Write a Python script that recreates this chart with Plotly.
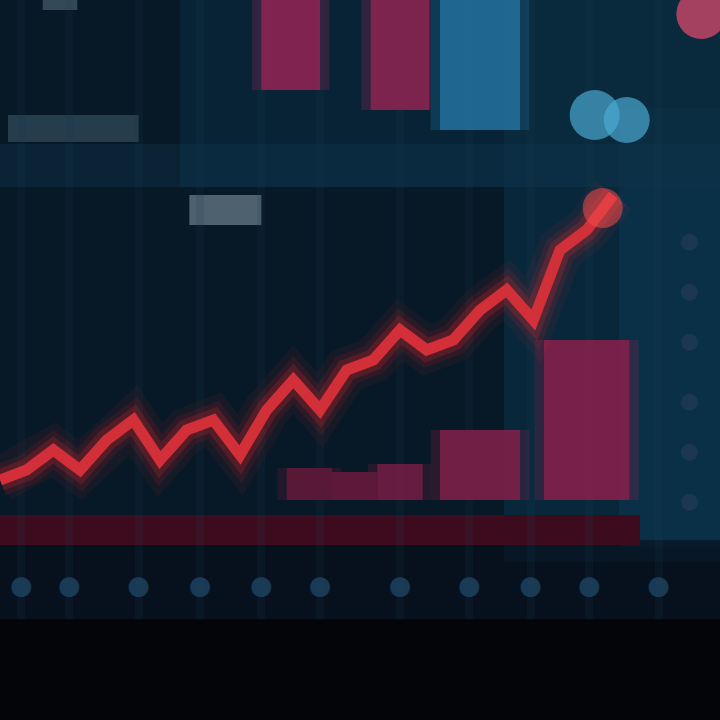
import plotly.graph_objects as go

# ---- data (arbitrary units) ----
days = list(range(24))
price = [140, 150, 170, 150, 180, 200, 160, 190, 200, 165, 210, 240,
         210, 250, 260, 290, 270, 280, 310, 330, 300, 370, 390, 425]

vol_x = [11.6, 13.3, 15.0, 18.0, 22.0]
vol_w = [1.7, 1.7, 1.7, 3.0, 3.2]
vol_h = [32, 28, 36, 70, 160]
vol_c = ["#5e1838", "#641a3c", "#6e1d42", "#7a2048", "#80214c"]

top_x = [10.9, 15.0, 18.0]
top_w = [2.2, 2.2, 3.0]
top_h = [-90, -110, -130]
top_c = ["#8e2455", "#8a2352", "#22709c"]

xtick_vals = [0.8, 2.6, 5.2, 7.5, 9.8, 12.0, 15.0, 17.6, 19.9, 22.1, 24.7]
ytick_vals = [120, 170, 220, 280, 330, 380]

fig = go.Figure()

# glow of the price line
for w, op in [(46, 0.06), (32, 0.1), (22, 0.18)]:
    fig.add_trace(go.Scatter(x=days, y=price, mode="lines",
                             line=dict(color="#ff2a2a", width=w),
                             opacity=op, hoverinfo="skip", showlegend=False))

# volume bars (glow + bars)
fig.add_trace(go.Bar(x=vol_x, y=vol_h, width=[w + 0.7 for w in vol_w], base=120,
                     marker=dict(color=vol_c, line_width=0), opacity=0.3,
                     showlegend=False, hoverinfo="skip"))
fig.add_trace(go.Bar(x=vol_x, y=vol_h, width=vol_w, base=120,
                     marker=dict(color=vol_c, line_width=0), opacity=0.9,
                     showlegend=False))

# top bars
fig.add_trace(go.Bar(x=top_x, y=top_h, width=[w + 0.7 for w in top_w], base=620,
                     marker=dict(color=top_c, line_width=0), opacity=0.3,
                     showlegend=False, hoverinfo="skip"))
fig.add_trace(go.Bar(x=top_x, y=top_h, width=top_w, base=620,
                     marker=dict(color=top_c, line_width=0), opacity=0.85,
                     showlegend=False))

# main price line
fig.add_trace(go.Scatter(x=days, y=price, mode="lines",
                         line=dict(color="#e0323a", width=11),
                         opacity=0.9, showlegend=False))
fig.add_trace(go.Scatter(x=[22.6], y=[412], mode="markers",
                         marker=dict(size=40, color="#f04a4a", opacity=0.55),
                         showlegend=False, hoverinfo="skip"))

# cyan and pink blobs (legend-like marks)
fig.add_trace(go.Scatter(x=[22.3, 23.5], y=[505, 500], mode="markers",
                         marker=dict(size=[50, 46], color="#4aa8d0", opacity=0.7,
                                     line_width=0),
                         showlegend=False, hoverinfo="skip"))
fig.add_trace(go.Scatter(x=[26.3], y=[606], mode="markers",
                         marker=dict(size=50, color="#d84a6e", opacity=0.75,
                                     line_width=0),
                         showlegend=False, hoverinfo="skip"))

shapes = [
    # lighter teal right side
    dict(type="rect", xref="paper", yref="paper", x0=0.7, x1=1, y0=0.22, y1=1,
         fillcolor="#0b3a56", line_width=0, layer="below", opacity=0.45),
    dict(type="rect", xref="paper", yref="paper", x0=0.86, x1=1, y0=0.24, y1=0.85,
         fillcolor="#0e4260", line_width=0, layer="below", opacity=0.35),
    # top region
    dict(type="rect", xref="paper", yref="paper", x0=0.25, x1=1, y0=0.74, y1=1,
         fillcolor="#0a2c40", line_width=0, layer="below", opacity=0.6),
    # lighter band
    dict(type="rect", xref="paper", yref="paper", x0=0, x1=1, y0=0.74, y1=0.8,
         fillcolor="#103850", line_width=0, layer="below", opacity=0.4),
    # darker lower strip
    dict(type="rect", xref="paper", yref="paper", x0=0, x1=1, y0=0.14, y1=0.25,
         fillcolor="#070e18", line_width=0, layer="below", opacity=0.6),
    # dark red base band
    dict(type="rect", xref="x", yref="y", x0=-1, x1=24, y0=75, y1=105,
         fillcolor="#3c0c1e", line_width=0, layer="below"),
    # blurred text blocks
    dict(type="rect", xref="x", yref="y", x0=0.3, x1=5.2, y0=478, y1=505,
         fillcolor="#3a5668", line_width=0, layer="below", opacity=0.6),
    dict(type="rect", xref="x", yref="y", x0=7.1, x1=9.8, y0=395, y1=425,
         fillcolor="#7f929f", line_width=0, layer="below", opacity=0.6),
    dict(type="rect", xref="x", yref="y", x0=1.6, x1=2.9, y0=610, y1=620,
         fillcolor="#5f7a8a", line_width=0, layer="below", opacity=0.5),
    # black bottom band
    dict(type="rect", xref="paper", yref="paper", x0=0, x1=1, y0=0, y1=0.14,
         fillcolor="#030508", line_width=0, layer="above"),
]

fig.update_layout(
    width=720, height=720,
    margin=dict(l=0, r=0, t=0, b=0),
    paper_bgcolor="#030508",
    plot_bgcolor="#071826",
    barmode="overlay",
    shapes=shapes,
    xaxis=dict(range=[0, 27], showgrid=True, gridcolor="rgba(30,60,80,0.15)",
               gridwidth=8, tickvals=xtick_vals, ticktext=["●"] * len(xtick_vals),
               ticks="", ticklabelposition="inside", ticklabelstandoff=18,
               tickfont=dict(color="rgba(30,70,100,0.8)", size=26),
               zeroline=False, showline=False, fixedrange=True),
    yaxis=dict(range=[0, 620], domain=[100 / 720, 1], showgrid=False,
               side="right", tickvals=ytick_vals, ticktext=["●"] * len(ytick_vals),
               ticklabelposition="inside", ticklabelstandoff=18,
               tickfont=dict(color="rgba(40,60,90,0.6)", size=22),
               zeroline=False, showline=False, fixedrange=True),
    font=dict(family="DejaVu Sans"),
)

fig.write_html("out.html", config={"displayModeBar": False},
               post_script="document.body.style.margin='0';")
